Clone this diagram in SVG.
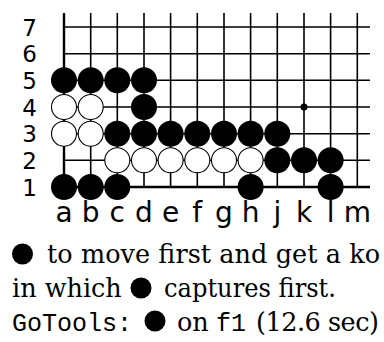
<svg xmlns="http://www.w3.org/2000/svg" width="384" height="342" viewBox="0 0 384 342">
<style>
.g{stroke:#000;stroke-width:1.6;fill:none}
.e{stroke:#000;stroke-width:2.4;fill:none}
.b{fill:#000}
.w{fill:#fff;stroke:#000;stroke-width:1.1}
.rl{font-family:"DejaVu Sans",sans-serif;font-size:23px;text-anchor:middle;fill:#000}
.cl{font-family:"DejaVu Sans",sans-serif;font-size:28px;text-anchor:middle;fill:#000}
.s{font-family:"DejaVu Serif",serif;font-size:25.5px;fill:#000}
.m{font-family:"Liberation Mono",monospace;font-size:25px;fill:#000}
</style>
<rect width="384" height="342" fill="#fff"/>
<g id="grid">
<path class="g" d="M90.7 13V187M117.3 13V187M144 13V187M170.6 13V187M197.3 13V187M224 13V187M250.6 13V187M277.3 13V187M304 13V187M330.6 13V187M357.3 13V187"/>
<path class="g" d="M64 27H370M64 53.7H370M64 80.3H370M64 107H370M64 133.7H370M64 160.3H370"/>
<path class="e" d="M64 13V187H370"/>
<circle class="b" cx="304" cy="107" r="3.5"/>
</g>
<g id="stones">
<circle class="b" cx="64" cy="80.3" r="13"/>
<circle class="b" cx="90.7" cy="80.3" r="13"/>
<circle class="b" cx="117.3" cy="80.3" r="13"/>
<circle class="b" cx="144" cy="80.3" r="13"/>
<circle class="b" cx="144" cy="107" r="13"/>
<circle class="w" cx="64" cy="107" r="12.5"/>
<circle class="w" cx="90.7" cy="107" r="12.5"/>
<circle class="w" cx="64" cy="133.7" r="12.5"/>
<circle class="w" cx="90.7" cy="133.7" r="12.5"/>
<circle class="b" cx="117.3" cy="133.7" r="13"/>
<circle class="b" cx="144" cy="133.7" r="13"/>
<circle class="b" cx="170.6" cy="133.7" r="13"/>
<circle class="b" cx="197.3" cy="133.7" r="13"/>
<circle class="b" cx="224" cy="133.7" r="13"/>
<circle class="b" cx="250.6" cy="133.7" r="13"/>
<circle class="b" cx="277.3" cy="133.7" r="13"/>
<circle class="w" cx="117.3" cy="160.3" r="12.5"/>
<circle class="w" cx="144" cy="160.3" r="12.5"/>
<circle class="w" cx="170.6" cy="160.3" r="12.5"/>
<circle class="w" cx="197.3" cy="160.3" r="12.5"/>
<circle class="w" cx="224" cy="160.3" r="12.5"/>
<circle class="w" cx="250.6" cy="160.3" r="12.5"/>
<circle class="b" cx="277.3" cy="160.3" r="13"/>
<circle class="b" cx="304" cy="160.3" r="13"/>
<circle class="b" cx="330.6" cy="160.3" r="13"/>
<circle class="b" cx="64" cy="187" r="13"/>
<circle class="b" cx="90.7" cy="187" r="13"/>
<circle class="b" cx="117.3" cy="187" r="13"/>
<circle class="b" cx="250.6" cy="187" r="13"/>
<circle class="b" cx="330.6" cy="187" r="13"/>
</g>
<g id="row-labels">
<text class="rl" x="29.5" y="35.5">7</text>
<text class="rl" x="29.5" y="62.2">6</text>
<text class="rl" x="29.5" y="88.8">5</text>
<text class="rl" x="29.5" y="115.5">4</text>
<text class="rl" x="29.5" y="142.2">3</text>
<text class="rl" x="29.5" y="168.8">2</text>
<text class="rl" x="29.5" y="195.5">1</text>
</g>
<g id="col-labels">
<text class="cl" x="64" y="222">a</text>
<text class="cl" x="90.7" y="222">b</text>
<text class="cl" x="117.3" y="222">c</text>
<text class="cl" x="144" y="222">d</text>
<text class="cl" x="170.6" y="222">e</text>
<text class="cl" x="197.3" y="222">f</text>
<text class="cl" x="224" y="222">g</text>
<text class="cl" x="250.6" y="222">h</text>
<text class="cl" x="277.3" y="222">j</text>
<text class="cl" x="304" y="222">k</text>
<text class="cl" x="330.6" y="222">l</text>
<text class="cl" x="357.3" y="222">m</text>
</g>
<g id="caption">
<circle class="b" cx="22.5" cy="254" r="10.5"/>
<text class="s" x="47" y="263" textLength="333" lengthAdjust="spacing">to move first and get a ko</text>
<text class="s" x="12" y="297">in which</text>
<circle class="b" cx="141" cy="288" r="10.5"/>
<text class="s" x="164" y="297" textLength="172" lengthAdjust="spacingAndGlyphs">captures first.</text>
<text class="m" x="12" y="331">GoTools:</text>
<circle class="b" cx="155" cy="321" r="10.5"/>
<text class="s" x="177" y="331">on</text>
<text class="m" x="216" y="331">f1</text>
<text class="s" x="256" y="331" textLength="123" lengthAdjust="spacing">(12.6 sec)</text>
</g>
</svg>
